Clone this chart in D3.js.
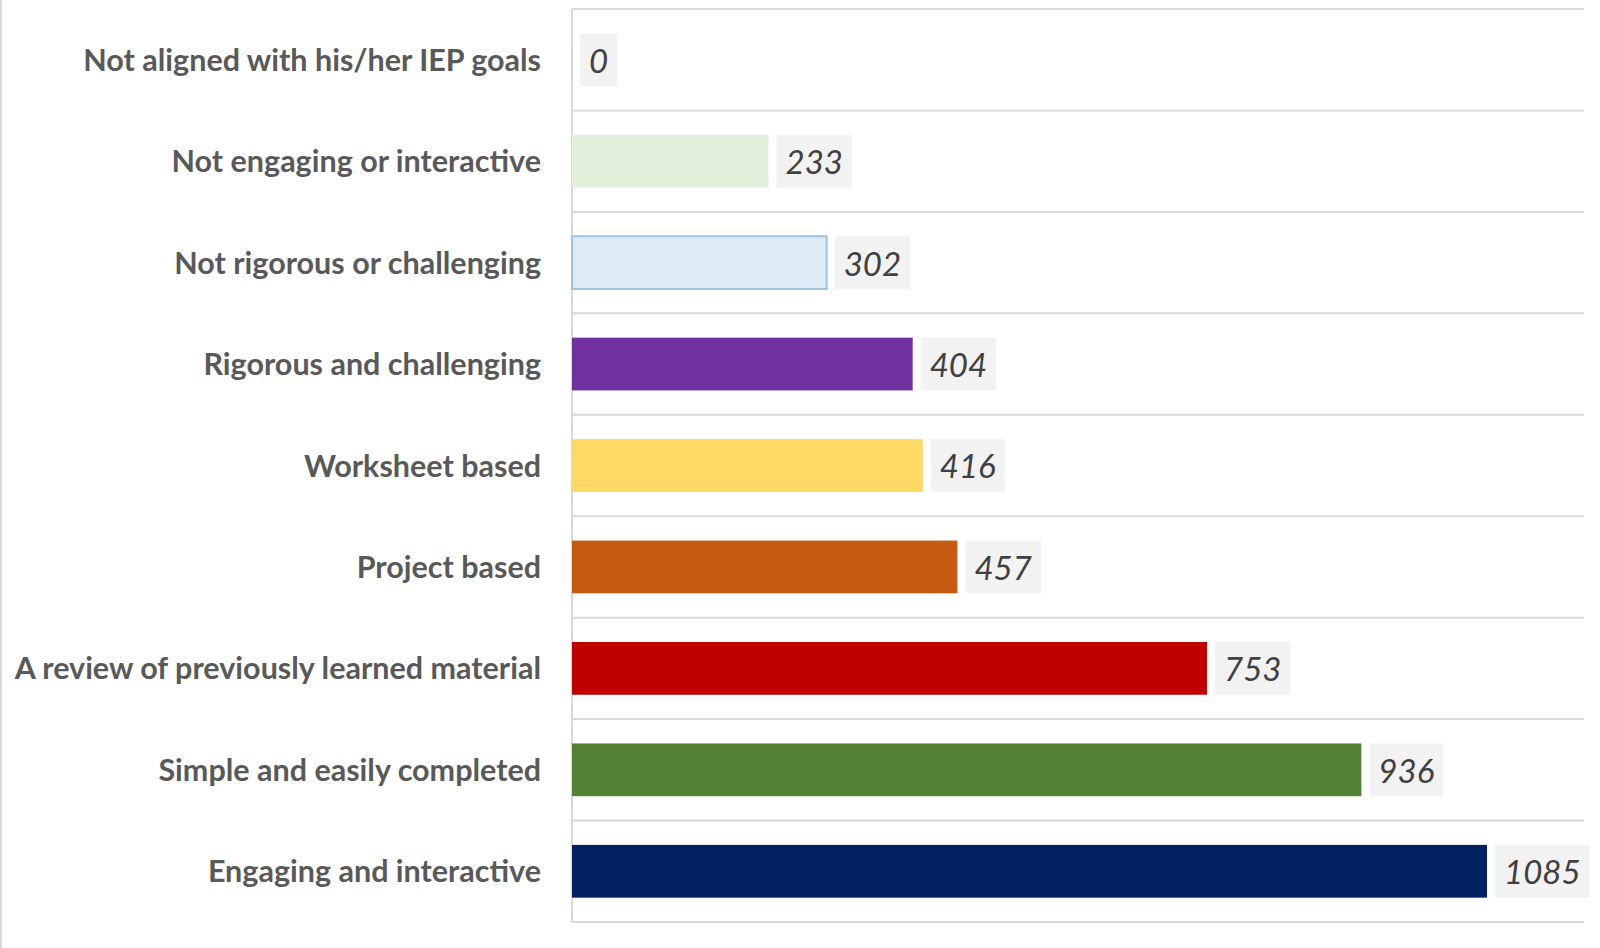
<!DOCTYPE html>
<html>
<head>
<meta charset="utf-8">
<script src="https://cdn.jsdelivr.net/npm/d3@7"></script>
<style>
  html, body { margin: 0; padding: 0; background: #fff; }
  svg { display: block; }
</style>
</head>
<body>
<svg id="chart" width="1600" height="948"></svg>
<script>
var categories = [
    "Not aligned with his/her IEP goals",
    "Not engaging or interactive",
    "Not rigorous or challenging",
    "Rigorous and challenging",
    "Worksheet based",
    "Project based",
    "A review of previously learned material",
    "Simple and easily completed",
    "Engaging and interactive"
];
var values = [0, 233, 302, 404, 416, 457, 753, 936, 1085];
var barColors = ["#e2efda", "#e2efda", "#deebf7", "#7030a0", "#ffd966", "#c55a11", "#c00000", "#548235", "#002060"];
var barStrokes = ["none", "none", "#9dc3e6", "none", "none", "none", "none", "none", "none"];
var xMax = 1200;

var svg = d3.select("#chart");
var margin = {left: 572, top: 9, right: 16, bottom: 26};
var W = 1600, H = 948;

var x = d3.scaleLinear().domain([0, xMax]).range([margin.left, W - margin.right]);
var y = d3.scaleBand().domain(categories).range([margin.top, H - margin.bottom]).paddingInner(0.48).paddingOuter(0.24);

// chart area border on the left
svg.append("line")
    .attr("x1", 1).attr("x2", 1).attr("y1", 0).attr("y2", H)
    .attr("stroke", "#d9d9d9").attr("stroke-width", 2);

// horizontal separators between categories
var seps = d3.range(categories.length + 1).map(function(i) { return margin.top + i * (H - margin.top - margin.bottom) / categories.length; });
svg.append("g").selectAll("line").data(seps).join("line")
    .attr("x1", margin.left).attr("x2", W - margin.right)
    .attr("y1", function(d) { return d; }).attr("y2", function(d) { return d; })
    .attr("stroke", "#d9d9d9").attr("stroke-width", 2);

// vertical axis line
svg.append("line")
    .attr("x1", margin.left).attr("x2", margin.left)
    .attr("y1", margin.top).attr("y2", H - margin.bottom)
    .attr("stroke", "#d9d9d9").attr("stroke-width", 2);

// bars
svg.append("g").selectAll("rect").data(values).join("rect")
    .attr("x", x(0))
    .attr("y", function(d, i) { return y(categories[i]); })
    .attr("width", function(d) { return x(d) - x(0); })
    .attr("height", y.bandwidth())
    .attr("fill", function(d, i) { return d > 0 ? barColors[i] : "none"; })
    .attr("stroke", function(d, i) { return d > 0 ? barStrokes[i] : "none"; })
    .attr("stroke-width", 2);

// category labels
svg.append("g").selectAll("text").data(categories).join("text")
    .attr("x", margin.left - 31)
    .attr("y", function(d) { return y(d) + y.bandwidth() / 2 - 1; })
    .attr("text-anchor", "end")
    .attr("dominant-baseline", "central")
    .attr("font-family", "Lato, 'Open Sans', sans-serif")
    .attr("font-weight", "bold")
    .attr("font-size", 30.5)
    .attr("fill", "#595959")
    .text(function(d) { return d; });

// value labels with grey boxes
var lbl = svg.append("g").selectAll("g").data(values).join("g")
    .attr("transform", function(d, i) { return "translate(" + (x(d) + 8) + "," + y(categories[i]) + ")"; });
lbl.append("rect").attr("class", "box")
    .attr("height", y.bandwidth())
    .attr("fill", "#f2f2f2");
lbl.append("text")
    .attr("x", 9)
    .attr("y", y.bandwidth() / 2)
    .attr("dominant-baseline", "central")
    .attr("font-family", "Lato, 'Open Sans', sans-serif")
    .attr("font-style", "italic")
    .attr("font-size", 33)
    .attr("fill", "#404040")
    .text(function(d) { return d; });
lbl.each(function() {
    var g = d3.select(this);
    var w = g.select("text").node().getComputedTextLength();
    g.select("rect.box").attr("width", w + 18);
});
</script>
</body>
</html>
